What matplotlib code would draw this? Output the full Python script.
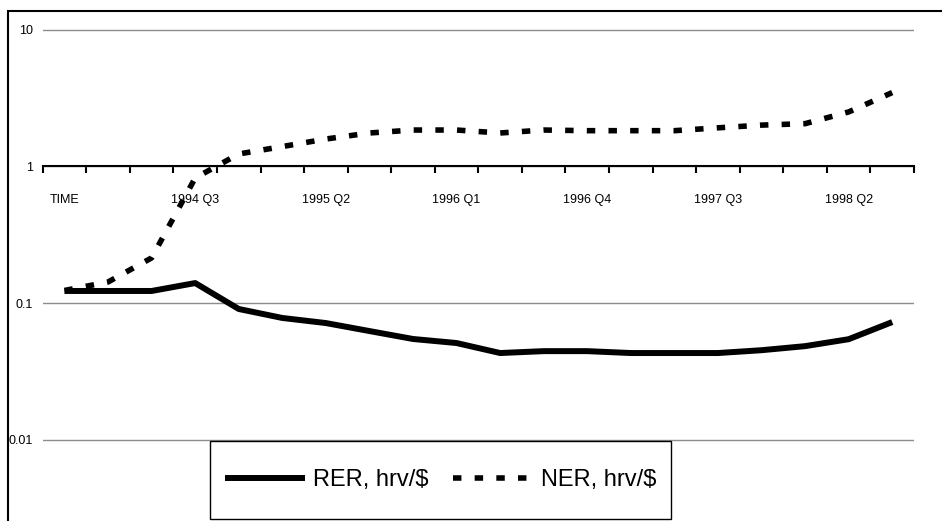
import matplotlib
matplotlib.use("Agg")
import matplotlib.pyplot as plt
from matplotlib.patches import Rectangle
import numpy as np

plt.rcParams['font.family'] = ['Liberation Sans', 'DejaVu Sans']

categories = ["TIME", "1994 Q1", "1994 Q2", "1994 Q3", "1994 Q4",
              "1995 Q1", "1995 Q2", "1995 Q3", "1995 Q4",
              "1996 Q1", "1996 Q2", "1996 Q3", "1996 Q4",
              "1997 Q1", "1997 Q2", "1997 Q3", "1997 Q4",
              "1998 Q1", "1998 Q2", "1998 Q3"]
rer = [0.1225, 0.1225, 0.1225, 0.140, 0.0904, 0.0777, 0.0713, 0.0623, 0.0545,
       0.0509, 0.0430, 0.0444, 0.0444, 0.0430, 0.0430, 0.0430, 0.0451, 0.0483,
       0.0543, 0.0725]
ner = [0.1235, 0.1425, 0.214, 0.824, 1.235, 1.40, 1.59, 1.76, 1.85,
       1.85, 1.76, 1.85, 1.83, 1.83, 1.83, 1.92, 2.01, 2.06, 2.51, 3.48]
y_ticks = [0.01, 0.1, 1, 10]
y_tick_labels = ["0.01", "0.1", "1", "10"]
series_names = ["RER, hrv/$", "NER, hrv/$"]

W, H = 942, 521
fig = plt.figure(figsize=(W / 100, H / 100), dpi=100)
fig.patch.set_facecolor("white")

# axes placement (pixel based)
left_px, right_px = 42.7, 914.0
top_px, bot_px = 25.0, 521.0
ax = fig.add_axes([left_px / W, 1 - bot_px / H, (right_px - left_px) / W, (bot_px - top_px) / H])
ax.set_facecolor("none")
ax.set_yscale("log")
ax.set_ylim(10 ** -2.597, 10 ** 1.0366)
x = np.arange(len(categories))
ax.set_xlim(-0.5, len(categories) - 0.5)

# gridlines
ax.set_yticks(y_ticks)
ax.set_yticklabels(y_tick_labels)
ax.yaxis.set_minor_locator(matplotlib.ticker.NullLocator())
ax.yaxis.grid(True, color="#8c8c8c", linewidth=1.0)
ax.set_axisbelow(True)
ax.tick_params(axis="y", length=0, pad=7, labelsize=9)

# x axis crossing at 1
for s in ["top", "right", "left"]:
    ax.spines[s].set_visible(False)
ax.spines["bottom"].set_position(("data", 1))
ax.spines["bottom"].set_linewidth(1.5)
ax.spines["bottom"].set_color("black")
ax.spines["bottom"].set_zorder(1.5)

major_idx = list(range(0, len(categories), 3))
ax.set_xticks(major_idx)
ax.set_xticklabels([categories[i] for i in major_idx])
ax.set_xticks(np.arange(-0.5, len(categories), 1.0), minor=True)
ax.tick_params(axis="x", which="major", length=0, pad=20, labelsize=9)
ax.tick_params(axis="x", which="minor", length=5, width=1.5, direction="out", color="black")

l1, = ax.plot(x, rer, color="black", linewidth=4.3, solid_capstyle="butt",
              solid_joinstyle="round", label=series_names[0], zorder=3)
l2, = ax.plot(x, ner, color="black", linewidth=4.0, dash_capstyle="butt",
              linestyle=(0, (1.52, 2.38)), label=series_names[1], zorder=3)

# outer chart border (top & left visible)
fig.patches.append(Rectangle((8 / W, -0.1), 1.2, (1 - 11 / H) + 0.1,
                             transform=fig.transFigure, fill=False,
                             edgecolor="black", linewidth=1.5, zorder=0))

# legend frame
fig.patches.append(Rectangle((210 / W, 1 - 519 / H), 461 / W, 78 / H,
                             transform=fig.transFigure, facecolor="white",
                             edgecolor="black", linewidth=1.0, zorder=4))
fs = 17
px_per_em = fs * 100 / 72
leg = fig.legend(handles=[l1, l2], labels=series_names, ncol=2,
                 loc="center", bbox_to_anchor=(440.5 / W, 1 - 480 / H),
                 bbox_transform=fig.transFigure, frameon=False,
                 fontsize=fs, handlelength=80 / px_per_em,
                 handletextpad=8 / px_per_em, columnspacing=24 / px_per_em,
                 borderpad=0, borderaxespad=0)
leg.set_zorder(5)

fig.savefig("out.png", dpi=100, facecolor="white")
